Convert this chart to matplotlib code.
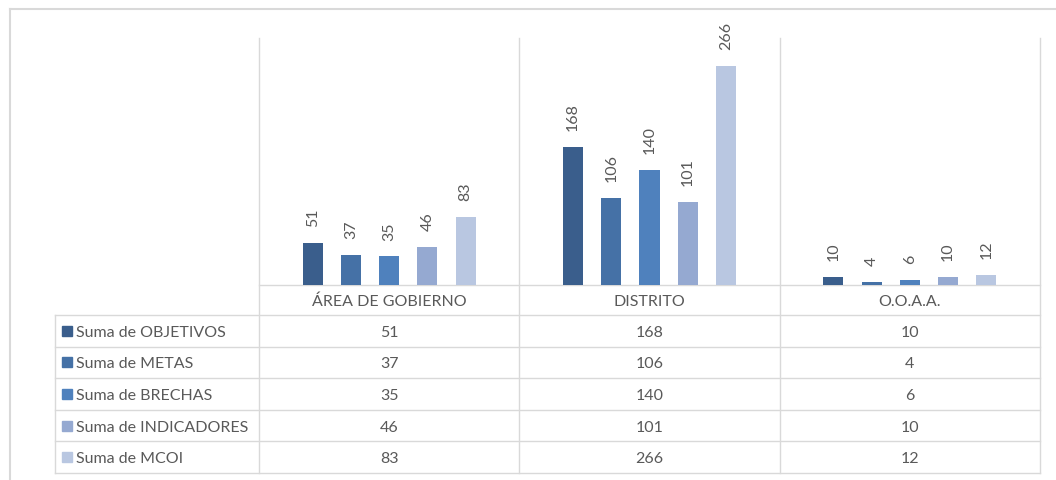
import matplotlib
matplotlib.use("Agg")
import matplotlib.pyplot as plt
from matplotlib.patches import Rectangle

categories = ["ÁREA DE GOBIERNO", "DISTRITO", "O.O.A.A."]
series_names = ["Suma de OBJETIVOS", "Suma de METAS", "Suma de BRECHAS",
                "Suma de INDICADORES", "Suma de MCOI"]
objetivos = [51, 168, 10]
metas = [37, 106, 4]
brechas = [35, 140, 6]
indicadores = [46, 101, 10]
mcoi = [83, 266, 12]
series_values = [objetivos, metas, brechas, indicadores, mcoi]
colors = ["#3A5E8C", "#4571A6", "#4F81BD", "#95A9D1", "#B9C7E1"]

plt.rcParams['font.family'] = ['Lato', 'DejaVu Sans']
TXT = "#595959"
GRID = "#D9D9D9"
FS = 11.5
W, H = 1056, 481
fig = plt.figure(figsize=(W / 100, H / 100), dpi=100)

# pixel layout
plot_left, plot_right, plot_top, base_y = 259, 1040, 39, 286
leg_left = 55
row_h = 31.6
header_bottom = 316

def fx(px):
    return px / W

def fy(py):
    return 1 - py / H

# bar axes
ax = fig.add_axes([fx(plot_left), fy(base_y), fx(plot_right) - fx(plot_left),
                   fy(plot_top) - fy(base_y)])
ax.set_xlim(-0.5, len(categories) - 0.5)
ax.set_ylim(0, 300)
ax.axis("off")
n = len(series_values)
step = 0.147
bw = 0.077
for i, (vals, col) in enumerate(zip(series_values, colors)):
    xs = [c + (i - (n - 1) / 2) * step for c in range(len(categories))]
    ax.bar(xs, vals, width=bw, color=col, zorder=2)
    for x, v in zip(xs, vals):
        ax.annotate(str(v), (x, v), xytext=(0, 12), textcoords="offset points",
                    rotation=90, ha="center", va="bottom", fontsize=FS, color=TXT)

# overlay for table/grid in pixel coords
ov = fig.add_axes([0, 0, 1, 1], zorder=-1)
ov.set_xlim(0, W)
ov.set_ylim(H, 0)
ov.axis("off")
lw = 1.0
# outer border
ov.plot([10, W], [10, 10], color=GRID, lw=1.5)
ov.plot([10, 10], [10, H], color=GRID, lw=1.5)

ncat = len(categories)
col_w = (plot_right - plot_left) / ncat
col_edges = [plot_left + k * col_w for k in range(ncat + 1)]
nrows = len(series_names)
row_edges = [header_bottom + k * row_h for k in range(nrows + 1)]
table_bottom = row_edges[-1]

# vertical lines
for xe in col_edges:
    ov.plot([xe, xe], [plot_top, table_bottom], color=GRID, lw=lw)
ov.plot([leg_left, leg_left], [header_bottom, table_bottom], color=GRID, lw=lw)
# horizontal lines
ov.plot([plot_left, plot_right], [base_y, base_y], color=GRID, lw=lw)
for ye in row_edges:
    ov.plot([leg_left, plot_right], [ye, ye], color=GRID, lw=lw)

# category header
for k, cat in enumerate(categories):
    ov.text((col_edges[k] + col_edges[k + 1]) / 2, (base_y + header_bottom) / 2 + 1,
            cat, ha="center", va="center", fontsize=FS, color=TXT)

# table rows
for r, (name, vals, col) in enumerate(zip(series_names, series_values, colors)):
    yc = (row_edges[r] + row_edges[r + 1]) / 2
    ov.add_patch(Rectangle((62, yc - 5), 10, 10, color=col))
    ov.text(76, yc + 1, name, ha="left", va="center", fontsize=FS, color=TXT)
    for k, v in enumerate(vals):
        ov.text((col_edges[k] + col_edges[k + 1]) / 2, yc + 1, str(v),
                ha="center", va="center", fontsize=FS, color=TXT)

fig.savefig("out.png", dpi=100, facecolor="white")
